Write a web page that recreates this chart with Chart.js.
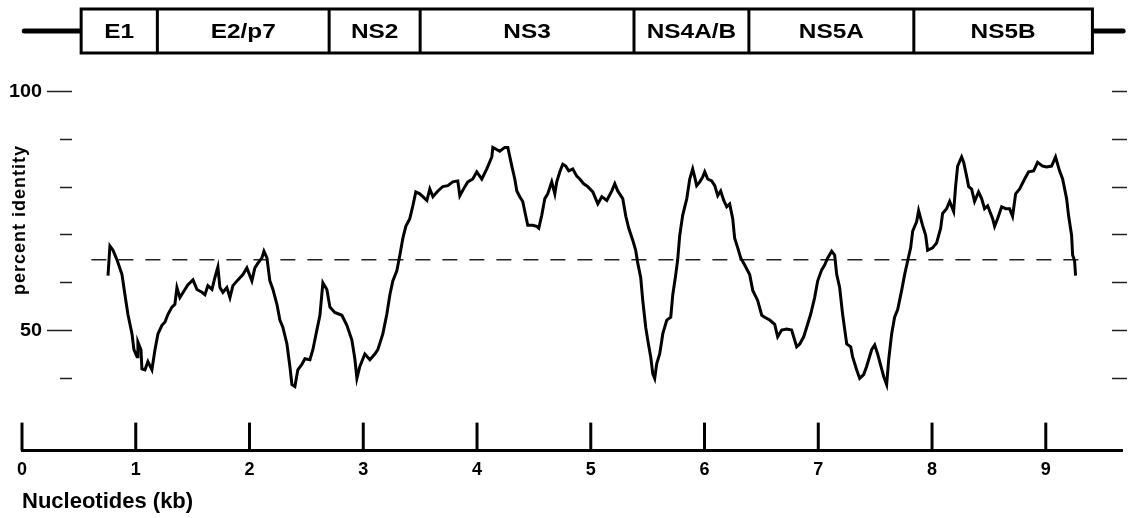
<!DOCTYPE html>
<html>
<head>
<meta charset="utf-8">
<title>Percent identity along the genome</title>
<script src="https://cdn.jsdelivr.net/npm/chart.js@4.4.0/dist/chart.umd.min.js"></script>
<style>
    html, body { margin: 0; padding: 0; background: #fff; }
    #wrap { width: 1128px; height: 518px; }
</style>
</head>
<body>
<div id="wrap"><canvas id="identityChart" width="1128" height="518"></canvas></div>
<script>
// ============================================================================
// PERCENT IDENTITY ALONG THE GENOME (sliding window plot + genome map)
// ============================================================================

// window position (kb) and percent identity
const positionKb = [
    0.756, 0.773, 0.800, 0.835, 0.879, 0.905, 0.931, 0.967, 0.984, 1.011,
    1.019, 1.046, 1.054, 1.081, 1.107, 1.142, 1.169, 1.195, 1.230, 1.257,
    1.283, 1.318, 1.344, 1.362, 1.388, 1.432, 1.459, 1.503, 1.538, 1.582,
    1.608, 1.634, 1.670, 1.696, 1.722, 1.740, 1.766, 1.801, 1.828, 1.854,
    1.898, 1.942, 1.977, 2.021, 2.047, 2.074, 2.109, 2.127, 2.153, 2.179,
    2.206, 2.241, 2.267, 2.293, 2.329, 2.355, 2.373, 2.399, 2.425, 2.460,
    2.487, 2.531, 2.557, 2.592, 2.619, 2.645, 2.680, 2.707, 2.750, 2.812,
    2.856, 2.900, 2.926, 2.944, 2.970, 3.014, 3.058, 3.102, 3.128, 3.172,
    3.207, 3.234, 3.260, 3.295, 3.322, 3.348, 3.374, 3.409, 3.436, 3.462,
    3.497, 3.524, 3.559, 3.585, 3.612, 3.656, 3.699, 3.743, 3.787, 3.831,
    3.849, 3.893, 3.919, 3.963, 3.998, 4.042, 4.086, 4.130, 4.139, 4.200,
    4.244, 4.271, 4.306, 4.332, 4.350, 4.376, 4.402, 4.429, 4.446, 4.490,
    4.525, 4.543, 4.569, 4.596, 4.622, 4.657, 4.684, 4.701, 4.728, 4.754,
    4.780, 4.807, 4.842, 4.877, 4.903, 4.938, 4.974, 5.018, 5.062, 5.097,
    5.141, 5.185, 5.211, 5.237, 5.281, 5.308, 5.334, 5.369, 5.395, 5.413,
    5.439, 5.457, 5.483, 5.501, 5.527, 5.545, 5.562, 5.580, 5.606, 5.633,
    5.668, 5.703, 5.721, 5.747, 5.764, 5.782, 5.808, 5.844, 5.870, 5.896,
    5.914, 5.931, 5.958, 5.984, 6.002, 6.028, 6.063, 6.090, 6.116, 6.142,
    6.169, 6.195, 6.221, 6.248, 6.265, 6.292, 6.318, 6.353, 6.397, 6.424,
    6.467, 6.503, 6.529, 6.573, 6.617, 6.643, 6.678, 6.722, 6.766, 6.810,
    6.837, 6.872, 6.898, 6.933, 6.968, 6.995, 7.030, 7.056, 7.083, 7.118,
    7.144, 7.162, 7.188, 7.214, 7.250, 7.285, 7.302, 7.337, 7.364, 7.399,
    7.425, 7.469, 7.496, 7.522, 7.557, 7.575, 7.601, 7.619, 7.645, 7.671,
    7.698, 7.733, 7.759, 7.786, 7.812, 7.830, 7.865, 7.882, 7.917, 7.944,
    7.961, 8.005, 8.040, 8.076, 8.093, 8.128, 8.155, 8.190, 8.207, 8.225,
    8.260, 8.278, 8.304, 8.322, 8.348, 8.374, 8.409, 8.436, 8.462, 8.489,
    8.533, 8.550, 8.576, 8.612, 8.647, 8.682, 8.708, 8.735, 8.770, 8.814,
    8.849, 8.893, 8.928, 8.972, 9.007, 9.051, 9.086, 9.121, 9.148, 9.183,
    9.200, 9.227, 9.236, 9.253, 9.262
];

const percentIdentity = [
    61.4, 67.6, 66.7, 64.7, 61.6, 57.4, 53.3, 49.2, 45.9, 44.4,
    47.5, 45.9, 41.9, 41.7, 43.4, 41.7, 45.9, 49.2, 51.0, 51.7,
    53.3, 54.8, 55.4, 58.9, 56.8, 58.5, 59.5, 60.5, 58.5, 57.9,
    57.4, 59.3, 58.5, 61.0, 63.2, 58.9, 57.9, 58.9, 56.8, 59.3,
    60.5, 61.6, 63.0, 60.3, 63.0, 64.0, 65.1, 66.5, 65.1, 60.3,
    58.5, 55.4, 52.1, 50.6, 47.1, 42.4, 38.6, 38.2, 41.7, 42.8,
    44.0, 43.8, 45.9, 50.0, 53.1, 59.9, 58.5, 54.8, 53.7, 53.1,
    51.0, 47.9, 44.0, 39.9, 42.4, 45.0, 43.8, 45.0, 45.9, 49.2,
    53.3, 57.4, 60.3, 62.4, 65.7, 69.2, 71.7, 73.3, 76.0, 78.9,
    78.5, 77.9, 77.1, 79.5, 77.9, 79.1, 80.0, 80.2, 81.0, 81.2,
    78.1, 80.0, 81.0, 81.6, 83.1, 81.6, 83.7, 86.2, 88.2, 87.4,
    88.2, 88.2, 84.3, 81.6, 79.1, 77.9, 76.9, 73.8, 71.9, 71.9,
    71.7, 71.3, 74.0, 77.5, 78.5, 81.0, 78.5, 81.0, 83.1, 84.7,
    84.3, 83.3, 83.7, 82.2, 81.6, 80.6, 80.0, 78.9, 76.4, 77.9,
    77.1, 79.1, 80.6, 79.1, 77.5, 73.8, 71.3, 68.8, 66.7, 64.0,
    61.0, 56.2, 50.6, 47.9, 44.4, 40.9, 39.9, 43.0, 45.0, 49.2,
    52.1, 52.7, 57.4, 61.6, 64.7, 69.8, 74.0, 77.5, 81.6, 83.7,
    82.0, 80.2, 81.0, 82.0, 83.1, 81.6, 81.2, 80.2, 78.1, 79.1,
    77.1, 75.8, 76.4, 73.3, 69.2, 67.2, 65.1, 63.6, 61.6, 58.3,
    56.2, 53.1, 52.7, 52.1, 51.2, 48.6, 50.0, 50.2, 50.0, 46.5,
    47.1, 48.6, 50.6, 53.3, 56.8, 60.3, 62.6, 63.6, 65.1, 66.5,
    65.7, 61.6, 58.9, 53.3, 47.1, 46.5, 44.4, 41.7, 39.9, 40.7,
    42.4, 45.9, 46.9, 45.0, 41.9, 40.3, 38.6, 43.8, 49.2, 52.7,
    54.3, 58.3, 61.6, 64.5, 67.2, 70.7, 72.7, 75.0, 71.9, 69.8,
    66.7, 67.2, 68.2, 71.3, 74.4, 75.4, 76.9, 74.8, 80.0, 84.3,
    86.2, 85.1, 82.2, 80.0, 79.5, 76.9, 78.9, 77.5, 75.4, 76.0,
    73.3, 71.7, 73.3, 75.8, 75.4, 75.4, 73.8, 78.5, 79.5, 81.6,
    83.1, 83.3, 85.1, 84.3, 84.1, 84.3, 86.2, 83.3, 81.6, 77.5,
    74.0, 69.8, 65.7, 64.5, 61.4
];

// dashed mean-identity line
const cutoffKb = [0.61, 9.34];
const cutoffValue = [64.7, 64.7];

// axes
const xTickValues = [0, 1, 2, 3, 4, 5, 6, 7, 8, 9];
const yTickValues = [40, 50, 60, 70, 80, 90, 100];
const yLabelledTicks = [100, 50];

// genome map (region boundaries in kb)
const regionNames = ['E1', 'E2/p7', 'NS2', 'NS3', 'NS4A/B', 'NS5A', 'NS5B'];
const regionBounds = [0.52, 1.19, 2.70, 3.50, 5.38, 6.39, 7.84, 9.41];
const genomeEnds = [0.02, 9.68];

const FONT = "'Liberation Sans', Arial, Helvetica, sans-serif";
Chart.defaults.font.family = FONT;
Chart.defaults.color = '#000';

// text that is a bit wider than the plain font, like the scanned figure
function wideText(ctx, text, x, y, sx) {
    ctx.save();
    ctx.translate(x, y);
    ctx.scale(sx, 1);
    ctx.fillText(text, 0, 0);
    ctx.restore();
}

const figureDecor = {
    id: 'figureDecor',
    afterDraw(chart) {
        const ctx = chart.ctx;
        const xs = chart.scales.x;
        const ys = chart.scales.y;
        const area = chart.chartArea;

        ctx.save();
        ctx.fillStyle = '#000';
        ctx.strokeStyle = '#000';

        // x ticks pointing up from the axis line
        ctx.lineWidth = 3;
        ctx.lineCap = 'butt';
        xTickValues.forEach(v => {
            const px = xs.getPixelForValue(v);
            ctx.beginPath();
            ctx.moveTo(px, area.bottom);
            ctx.lineTo(px, area.bottom - 28);
            ctx.stroke();
        });

        // y ticks on both sides
        ctx.lineWidth = 1.5;
        ctx.strokeStyle = '#222';
        yTickValues.forEach(v => {
            const py = Math.round(ys.getPixelForValue(v)) + 0.5;
            const long = yLabelledTicks.includes(v);
            ctx.beginPath();
            ctx.moveTo(long ? 47 : 60, py);
            ctx.lineTo(72, py);
            ctx.moveTo(1112, py);
            ctx.lineTo(1127, py);
            ctx.stroke();
        });

        // y labels
        ctx.font = 'bold 18px ' + FONT;
        ctx.textAlign = 'right';
        ctx.textBaseline = 'middle';
        yLabelledTicks.forEach(v => {
            wideText(ctx, String(v), 42, ys.getPixelForValue(v) + 1, 1.1);
        });

        // y title
        ctx.save();
        ctx.translate(20, 220);
        ctx.rotate(-Math.PI / 2);
        ctx.font = 'bold 18px ' + FONT;
        ctx.letterSpacing = '1px';
        ctx.textAlign = 'center';
        ctx.textBaseline = 'middle';
        ctx.fillText('percent identity', 0, 0);
        ctx.restore();

        // genome map
        const top = 9, bottom = 53, mid = 31;
        const bx = regionBounds.map(v => xs.getPixelForValue(v));
        ctx.strokeStyle = '#000';
        ctx.lineWidth = 5;
        ctx.lineCap = 'round';
        ctx.beginPath();
        ctx.moveTo(xs.getPixelForValue(genomeEnds[0]), mid);
        ctx.lineTo(bx[0], mid);
        ctx.moveTo(bx[bx.length - 1], mid);
        ctx.lineTo(xs.getPixelForValue(genomeEnds[1]), mid);
        ctx.stroke();

        ctx.lineCap = 'butt';
        ctx.lineWidth = 3;
        ctx.fillStyle = '#fff';
        ctx.fillRect(bx[0], top, bx[bx.length - 1] - bx[0], bottom - top);
        ctx.strokeRect(bx[0], top, bx[bx.length - 1] - bx[0], bottom - top);
        ctx.beginPath();
        for (let i = 1; i < bx.length - 1; i++) {
            ctx.moveTo(bx[i], top);
            ctx.lineTo(bx[i], bottom);
        }
        ctx.stroke();

        ctx.fillStyle = '#000';
        ctx.font = 'bold 20px ' + FONT;
        ctx.textAlign = 'center';
        ctx.textBaseline = 'middle';
        regionNames.forEach((name, i) => {
            wideText(ctx, name, (bx[i] + bx[i + 1]) / 2, mid + 1, 1.22);
        });

        ctx.restore();
    }
};

const ctx = document.getElementById('identityChart').getContext('2d');

const chart = new Chart(ctx, {
    type: 'line',
    data: {
        datasets: [
            {
                label: 'percent identity',
                data: positionKb.map((x, i) => ({ x: x, y: percentIdentity[i] })),
                borderColor: '#000',
                borderWidth: 3,
                pointRadius: 0,
                tension: 0,
                fill: false
            },
            {
                label: 'mean',
                data: cutoffKb.map((x, i) => ({ x: x, y: cutoffValue[i] })),
                borderColor: '#222',
                borderWidth: 1.5,
                borderDash: [15, 12],
                pointRadius: 0,
                fill: false
            }
        ]
    },
    options: {
        responsive: false,
        animation: false,
        layout: {
            padding: { left: 22, right: 6, top: 91, bottom: 3 }
        },
        plugins: {
            legend: { display: false },
            tooltip: { enabled: false }
        },
        scales: {
            x: {
                type: 'linear',
                min: 0,
                max: 9.67,
                afterBuildTicks: (scale) => {
                    scale.ticks = xTickValues.map(v => ({ value: v }));
                },
                grid: { display: false, drawTicks: false },
                border: { display: true, width: 3, color: '#000' },
                ticks: {
                    padding: 10,
                    color: '#000',
                    autoSkip: false,
                    maxRotation: 0,
                    font: { size: 18, weight: 'bold', lineHeight: 1 }
                },
                title: {
                    display: true,
                    text: 'Nucleotides (kb)',
                    align: 'start',
                    color: '#000',
                    padding: { top: 0, bottom: 0 },
                    font: { size: 22, weight: 'bold' }
                }
            },
            y: {
                display: false,
                min: 24.8,
                max: 100
            }
        }
    },
    plugins: [figureDecor]
});
</script>
</body>
</html>
